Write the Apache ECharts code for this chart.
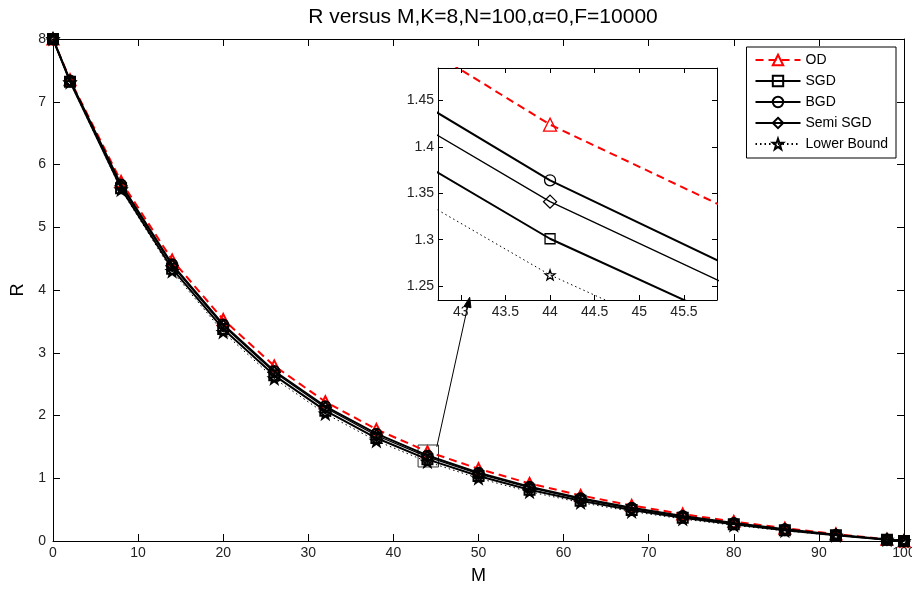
<!DOCTYPE html>
<html>
<head>
<meta charset="utf-8">
<script src="https://cdn.jsdelivr.net/npm/echarts@6/dist/echarts.min.js"></script>
<style>html,body{margin:0;padding:0;background:#fff;overflow:hidden;width:100%;height:100%}#c{width:100vw;height:100vh}</style>
</head>
<body>
<div id="c"></div>
<script>
var M = [0, 2, 8, 14, 20, 26, 32, 38, 44, 50, 56, 62, 68, 74, 80, 86, 92, 98, 100];
var OD   = [8, 7.35, 5.73, 4.48, 3.53, 2.79, 2.22, 1.779, 1.424, 1.151, 0.917, 0.727, 0.567, 0.429, 0.31, 0.205, 0.111, 0.026, 0];
var SGD  = [8, 7.32, 5.62, 4.34, 3.38, 2.64, 2.077, 1.641, 1.301, 1.037, 0.817, 0.641, 0.494, 0.370, 0.265, 0.173, 0.093, 0.021, 0];
var BGD  = [8, 7.34, 5.68, 4.41, 3.45, 2.71, 2.147, 1.710, 1.364, 1.088, 0.864, 0.681, 0.529, 0.398, 0.286, 0.188, 0.101, 0.024, 0];
var SEMI = [8, 7.33, 5.66, 4.39, 3.43, 2.69, 2.124, 1.681, 1.341, 1.071, 0.849, 0.668, 0.517, 0.389, 0.279, 0.183, 0.099, 0.023, 0];
var LB   = [8, 7.31, 5.60, 4.30, 3.33, 2.59, 2.03, 1.596, 1.262, 1.00, 0.785, 0.613, 0.471, 0.351, 0.25, 0.163, 0.087, 0.020, 0];
var seriesNames = ['OD', 'SGD', 'BGD', 'Semi SGD', 'Lower Bound'];
var titleText = 'R versus M,K=8,N=100,\u03b1=0,F=10000';

var STAR = 'path://M0,-10 L2.35,-3.24 L9.51,-3.09 L3.80,1.24 L5.88,8.09 L0,4 L-5.88,8.09 L-3.80,1.24 L-9.51,-3.09 L-2.35,-3.24 Z';
var styles = [
  {data: OD, color: '#ff0000', width: 2, type: [8, 5], symbol: 'triangle', size: 11, isize: 13},
  {data: SGD, color: '#000', width: 2, type: 'solid', symbol: 'rect', size: 10, isize: 10},
  {data: BGD, color: '#000', width: 2, type: 'solid', symbol: 'circle', size: 10, isize: 11},
  {data: SEMI, color: '#000', width: 1.3, type: 'solid', symbol: 'diamond', size: 11, isize: 13},
  {data: LB, color: '#000', width: 1, type: [1.5, 3], symbol: STAR, size: 10, isize: 10}
];

function pairs(arr) { return M.map(function (m, i) { return [m, arr[i]]; }); }

var FONT = 'Arial, "Liberation Sans", sans-serif';
var series = [];
styles.forEach(function (s, k) {
  var base = {
    name: seriesNames[k], type: 'line', data: pairs(s.data),
    symbol: s.symbol, showAllSymbol: true,
    lineStyle: {color: s.color, width: s.width, type: s.type},
    itemStyle: {color: 'rgba(255,255,255,0)', borderColor: s.color, borderWidth: 1.3},
    emphasis: {disabled: true}, silent: true, animation: false
  };
  var main = Object.assign({}, base, {xAxisIndex: 0, yAxisIndex: 0, symbolSize: s.size, z: 3 + k,
    itemStyle: {color: 'rgba(255,255,255,0)', borderColor: s.color, borderWidth: 2}});
  if (k === 1) {
    main.markArea = {
      silent: true,
      itemStyle: {color: 'rgba(0,0,0,0)', borderColor: '#333', borderWidth: 1},
      data: [[{coord: [42.9, 1.18]}, {coord: [45.3, 1.53]}]]
    };
  }
  series.push(main);
  series.push(Object.assign({}, base, {xAxisIndex: 2, yAxisIndex: 2, symbolSize: s.isize, clip: true, z: 10 + k}));
});

function axisCommon(extra) {
  return Object.assign({
    type: 'value',
    axisLine: {show: true, onZero: false, lineStyle: {color: '#000', width: 1}},
    axisTick: {show: true, inside: true, length: 7, lineStyle: {color: '#000'}},
    splitLine: {show: false},
    axisLabel: {color: '#222', fontSize: 14, fontFamily: FONT}
  }, extra);
}

var option = {
  animation: false,
  backgroundColor: '#fff',
  title: {
    text: titleText, left: 478, top: 2, textAlign: 'center',
    textStyle: {fontSize: 21, fontWeight: 'normal', color: '#000', fontFamily: FONT}
  },
  legend: {
    data: seriesNames, orient: 'vertical', right: 16, top: 47,
    itemWidth: 45, itemHeight: 13, itemGap: 7,
    padding: [6, 8, 7, 8],
    backgroundColor: '#fff', borderColor: '#000', borderWidth: 1, borderRadius: 0,
    textStyle: {fontSize: 14, color: '#000', fontFamily: FONT},
    selectedMode: false, z: 20
  },
  grid: [
    {left: 53, right: 8, top: 39, bottom: 48, containLabel: false, outerBoundsMode: 'none'},
    {left: 438, right: 195, top: 68, bottom: 289, show: true, backgroundColor: '#fff', borderWidth: 0, z: 8,
      containLabel: false, outerBoundsMode: 'none'}
  ],
  xAxis: [
    axisCommon({gridIndex: 0, min: 0, max: 100, interval: 10, position: 'bottom',
      axisLabel: {color: '#222', fontSize: 14, fontFamily: FONT, margin: 5},
      name: 'M', nameLocation: 'middle', nameGap: 26,
      nameTextStyle: {fontSize: 18, color: '#000', fontFamily: FONT}}),
    axisCommon({gridIndex: 0, min: 0, max: 100, interval: 10, position: 'top', axisLabel: {show: false}}),
    axisCommon({gridIndex: 1, min: 42.745, max: 45.87, position: 'bottom', z: 9,
      axisTick: {show: true, inside: true, length: 5, lineStyle: {color: '#000'}},
      axisLabel: {color: '#222', fontSize: 14, fontFamily: FONT, margin: 5, showMinLabel: false, showMaxLabel: false}}),
    axisCommon({gridIndex: 1, min: 42.745, max: 45.87, position: 'top', z: 9,
      axisTick: {show: true, inside: true, length: 5, lineStyle: {color: '#000'}},
      axisLabel: {show: false}})
  ],
  yAxis: [
    axisCommon({gridIndex: 0, min: 0, max: 8, interval: 1, position: 'left',
      axisLabel: {color: '#222', fontSize: 14, fontFamily: FONT, margin: 7},
      name: 'R', nameLocation: 'middle', nameGap: 24, nameRotate: 90,
      nameTextStyle: {fontSize: 18, color: '#000', fontFamily: FONT}}),
    axisCommon({gridIndex: 0, min: 0, max: 8, interval: 1, position: 'right', axisLabel: {show: false}}),
    axisCommon({gridIndex: 1, min: 1.235, max: 1.485, position: 'left', z: 9,
      axisTick: {show: true, inside: true, length: 5, lineStyle: {color: '#000'}},
      axisLabel: {color: '#222', fontSize: 14, fontFamily: FONT, margin: 4, showMinLabel: false, showMaxLabel: false}}),
    axisCommon({gridIndex: 1, min: 1.235, max: 1.485, position: 'right', z: 9,
      axisTick: {show: true, inside: true, length: 5, lineStyle: {color: '#000'}},
      axisLabel: {show: false}})
  ],
  series: series
};

var chart = echarts.init(document.getElementById('c'), null, {renderer: 'canvas'});
chart.setOption(option);

// arrow from zoom rectangle to inset
var p0 = chart.convertToPixel({gridIndex: 0}, [45.1, 1.50]);
var p1 = chart.convertToPixel({gridIndex: 1}, [43.1, 1.238]);
var ang = Math.atan2(p1[1] - p0[1], p1[0] - p0[0]);
var L = 10, W = 3.5;
var bx = p1[0] - L * Math.cos(ang), by = p1[1] - L * Math.sin(ang);
var nx = -Math.sin(ang), ny = Math.cos(ang);
chart.setOption({
  graphic: [
    {type: 'line', z: 30, shape: {x1: p0[0], y1: p0[1], x2: bx, y2: by}, style: {stroke: '#000', lineWidth: 1}},
    {type: 'polygon', z: 30, shape: {points: [[p1[0], p1[1]], [bx + nx * W, by + ny * W], [bx - nx * W, by - ny * W]]},
      style: {fill: '#000', stroke: '#000'}}
  ]
});
</script>
</body>
</html>
